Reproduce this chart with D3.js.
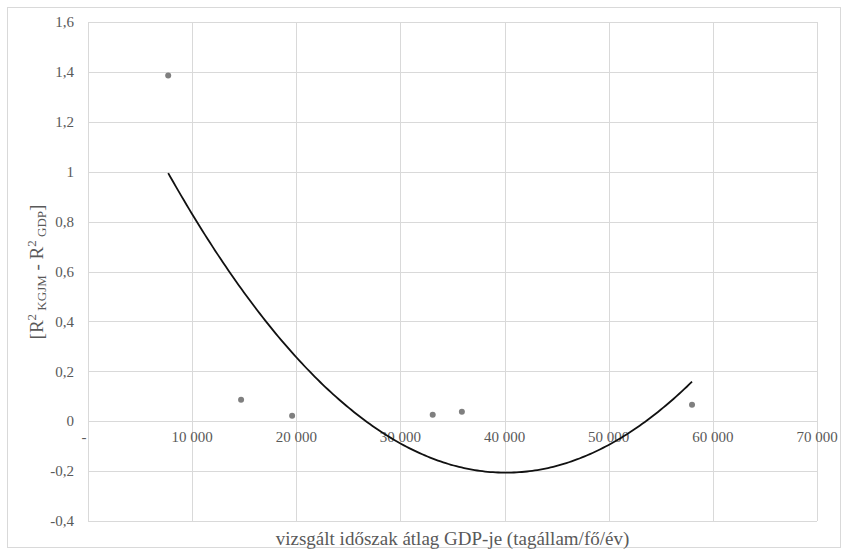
<!DOCTYPE html>
<html>
<head>
<meta charset="utf-8">
<script src="https://cdn.jsdelivr.net/npm/d3@7"></script>
<style>
  body { margin: 0; background: #fff; }
</style>
</head>
<body>
<div id="chart"></div>
<script>
// values
const gdp = [7700, 14700, 19600, 33100, 35900, 58000]
const diff = [1.386, 0.086, 0.022, 0.026, 0.038, 0.066]
const xTicks = [0, 10000, 20000, 30000, 40000, 50000, 60000, 70000]
const xTickLabels = ["-", "10 000", "20 000", "30 000", "40 000", "50 000", "60 000", "70 000"]
const yTicks = [-0.4, -0.2, 0, 0.2, 0.4, 0.6, 0.8, 1, 1.2, 1.4, 1.6]
const yTickLabels = ["-0,4", "-0,2", "0", "0,2", "0,4", "0,6", "0,8", "1", "1,2", "1,4", "1,6"]

const W = 848, H = 555
const margin = { top: 22, right: 31, bottom: 34, left: 88 }
const width = W - margin.left - margin.right
const height = H - margin.top - margin.bottom
const font = "'Liberation Serif', 'Times New Roman', 'DejaVu Serif', serif"

const svg = d3.select("#chart").append("svg")
    .attr("width", W)
    .attr("height", H)
    .attr("font-family", font)

// outer chart border
svg.append("rect")
    .attr("x", 7.5).attr("y", 7.5)
    .attr("width", W - 15).attr("height", H - 15)
    .attr("fill", "none")
    .attr("stroke", "#d9d9d9")

const g = svg.append("g")
    .attr("transform", `translate(${margin.left},${margin.top})`)

const x = d3.scaleLinear().domain([0, 70000]).range([0, width])
const y = d3.scaleLinear().domain([-0.4, 1.6]).range([height, 0])

// grid
g.append("g").selectAll("line")
    .data(yTicks)
    .enter().append("line")
    .attr("x1", 0).attr("x2", width)
    .attr("y1", d => Math.round(y(d)) + 0.5).attr("y2", d => Math.round(y(d)) + 0.5)
    .attr("stroke", "#d9d9d9")
g.append("g").selectAll("line")
    .data(xTicks)
    .enter().append("line")
    .attr("y1", 0).attr("y2", height)
    .attr("x1", d => Math.round(x(d)) + 0.5).attr("x2", d => Math.round(x(d)) + 0.5)
    .attr("stroke", "#d9d9d9")

// y tick labels
g.append("g").selectAll("text")
    .data(yTicks)
    .enter().append("text")
    .attr("x", -14)
    .attr("y", d => y(d))
    .attr("dy", "0.35em")
    .attr("text-anchor", "end")
    .attr("fill", "#595959")
    .style("font-size", "15px")
    .text((d, i) => yTickLabels[i])

// x tick labels sit just under the zero line
g.append("g").selectAll("text")
    .data(xTicks)
    .enter().append("text")
    .attr("x", (d, i) => i === 0 ? x(d) - 4 : x(d))
    .attr("y", y(0) + 21)
    .attr("text-anchor", "middle")
    .attr("fill", "#595959")
    .style("font-size", "15px")
    .text((d, i) => xTickLabels[i])

// polynomial (order 2) trendline, least squares fit of the points
function quadFit(xs, ys) {
    const s = [0, 0, 0, 0, 0], t = [0, 0, 0]
    xs.forEach((xv, i) => {
        const u = xv / 10000
        for (let k = 0; k < 5; k++) s[k] += Math.pow(u, k)
        for (let k = 0; k < 3; k++) t[k] += ys[i] * Math.pow(u, k)
    })
    const A = [[s[0], s[1], s[2], t[0]], [s[1], s[2], s[3], t[1]], [s[2], s[3], s[4], t[2]]]
    for (let c = 0; c < 3; c++) {
        for (let r = c + 1; r < 3; r++) {
            const f = A[r][c] / A[c][c]
            for (let k = c; k < 4; k++) A[r][k] -= f * A[c][k]
        }
    }
    const b = [0, 0, 0]
    for (let r = 2; r >= 0; r--) {
        let v = A[r][3]
        for (let k = r + 1; k < 3; k++) v -= A[r][k] * b[k]
        b[r] = v / A[r][r]
    }
    return xv => { const u = xv / 10000; return b[0] + b[1] * u + b[2] * u * u }
}
const trend = quadFit(gdp, diff)
const xs = d3.range(0, 201).map(i => d3.min(gdp) + (d3.max(gdp) - d3.min(gdp)) * i / 200)

g.append("path")
    .datum(xs)
    .attr("fill", "none")
    .attr("stroke", "#111")
    .attr("stroke-width", 1.8)
    .attr("d", d3.line().x(d => x(d)).y(d => y(trend(d))))

// points
g.append("g").selectAll("circle")
    .data(gdp)
    .enter().append("circle")
    .attr("cx", d => x(d))
    .attr("cy", (d, i) => y(diff[i]))
    .attr("r", 3)
    .attr("fill", "#7f7f7f")

// axis titles
svg.append("text")
    .attr("x", margin.left + width / 2)
    .attr("y", 545)
    .attr("text-anchor", "middle")
    .attr("fill", "#595959")
    .style("font-size", "19px")
    .text("vizsgált időszak átlag GDP-je (tagállam/fő/év)")

const yt = svg.append("text")
    .attr("transform", "translate(43,272) rotate(-90)")
    .attr("text-anchor", "middle")
    .attr("fill", "#595959")
    .style("font-size", "19px")
yt.append("tspan").text("[R")
yt.append("tspan").attr("dy", -7).style("font-size", "13px").text("2")
yt.append("tspan").attr("dy", 10).style("font-size", "13px").text(" KGJM")
yt.append("tspan").attr("dy", -3).text(" - R")
yt.append("tspan").attr("dy", -7).style("font-size", "13px").text("2")
yt.append("tspan").attr("dy", 10).style("font-size", "13px").text(" GDP")
yt.append("tspan").attr("dy", -3).text("]")
</script>
</body>
</html>
